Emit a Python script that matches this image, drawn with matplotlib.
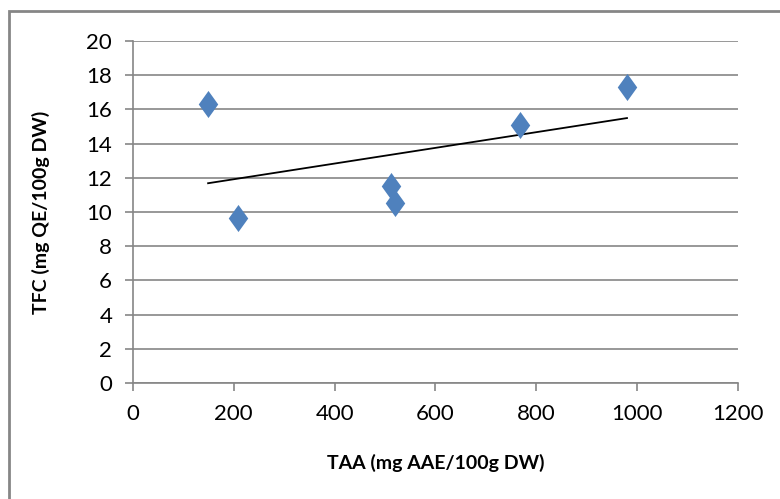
import matplotlib.pyplot as plt
import matplotlib.patches as mpatches
import numpy as np

plt.rcParams['font.family'] = ['Lato', 'DejaVu Sans']

# data
taa = [149, 208, 511, 519, 768, 980]
tfc = [16.3, 9.65, 11.5, 10.5, 15.1, 17.3]
x_ticks = [0, 200, 400, 600, 800, 1000, 1200]
y_ticks = [0, 2, 4, 6, 8, 10, 12, 14, 16, 18, 20]

grey = "#868686"
blue = "#4F81BD"

fig = plt.figure(figsize=(7.8, 4.99), dpi=100)
ax = fig.add_axes([0.1705, 0.2325, 0.7755, 0.6855])

# outer chart border (Excel style, cut off at right/bottom)
fig.patches.append(mpatches.Rectangle((9 / 780, -0.1), 1.2, 1 - 11 / 499 + 0.1,
                                      transform=fig.transFigure, fill=False,
                                      edgecolor=grey, lw=2))

ax.set_xlim(0, 1200)
ax.set_ylim(0, 20)
ax.set_xticks(x_ticks)
ax.set_yticks(y_ticks)
ax.yaxis.grid(True, color=grey, lw=1.2)
ax.set_axisbelow(True)

for side in ["top", "right"]:
    ax.spines[side].set_visible(False)
for side in ["left", "bottom"]:
    ax.spines[side].set_color(grey)
    ax.spines[side].set_linewidth(1.2)
ax.tick_params(axis="both", colors=grey, length=6, width=1.2, labelcolor="black",
               labelsize=16)
ax.tick_params(axis="x", pad=9)
ax.tick_params(axis="y", pad=9)

diamond = [(0, 1), (0.72, 0), (0, -1), (-0.72, 0), (0, 1)]
ax.scatter(taa, tfc, marker=diamond, s=380, color=blue, zorder=3, linewidths=0)

# linear trendline
slope, intercept = np.polyfit(taa, tfc, 1)
xs = np.array([min(taa), max(taa)])
ax.plot(xs, slope * xs + intercept, color="black", lw=1.3, zorder=2)

ax.set_xlabel("TAA (mg AAE/100g DW)", fontsize=14, fontweight="bold", labelpad=22)
ax.set_ylabel("TFC (mg QE/100g DW)", fontsize=14, fontweight="bold", labelpad=26)

fig.savefig("out.png", dpi=100)
